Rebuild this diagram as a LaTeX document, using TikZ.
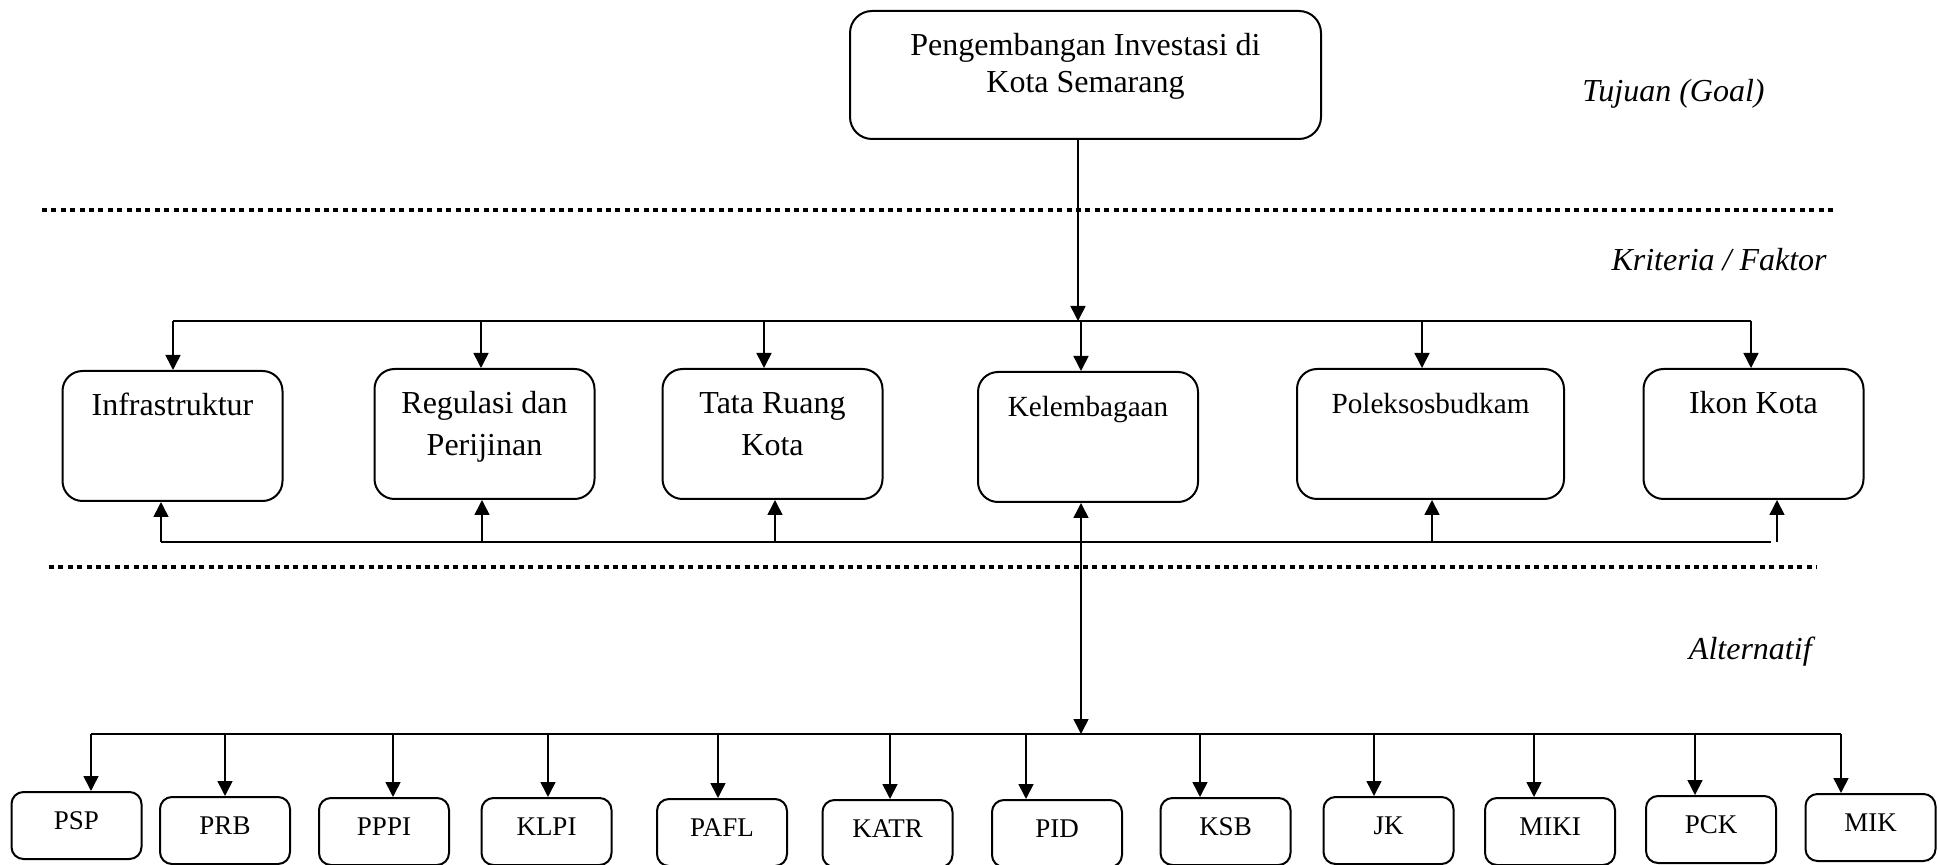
\documentclass[tikz,border=0pt]{standalone}
\usepackage{fontspec}
\setmainfont{Liberation Serif}
\usetikzlibrary{arrows.meta}

\begin{document}
\begin{tikzpicture}[x=0.5pt, y=-0.5pt,
    line/.style={line width=0.8pt},
    arr/.style={line width=0.8pt, -{Triangle[length=7.5pt,width=7.5pt]}},
    sep/.style={line width=2pt, dash pattern=on 2.5pt off 2.2pt},
    goalbox/.style={draw, line width=1pt, rounded corners=11pt, anchor=north, align=center,
      inner sep=0pt, minimum width=235.5pt, minimum height=64pt,
      text height=41pt, text depth=23pt, font=\fontsize{16}{18.5}\selectfont},
    crit/.style={draw, line width=1pt, rounded corners=10pt, anchor=north, align=center,
      inner sep=0pt, minimum width=110pt, minimum height=65pt,
      text height=22.5pt, text depth=42.5pt, font=\fontsize{16}{21}\selectfont},
    twoline/.style={text height=43.5pt, text depth=21.5pt},
    small/.style={font=\fontsize{14.6}{18}\selectfont},
    altbox/.style={draw, line width=1pt, rounded corners=6pt, anchor=north,
      inner sep=0pt, minimum width=65pt, minimum height=33.5pt,
      text height=18.5pt, text depth=15pt, font=\fontsize{13.5}{16}\selectfont},
    lab/.style={anchor=base east, inner sep=0pt, font=\fontsize{16}{18}\selectfont\itshape}]
  \useasboundingbox (0,0) rectangle (1938,865);

  \node[goalbox](goal) at (1085.5,10){Pengembangan Investasi di\\Kota Semarang};

  \node[lab](tujuan) at (1765,102){Tujuan (Goal)};
  \node[lab](kriteria) at (1827,271){Kriteria / Faktor};
  \node[lab](alternatif) at (1812,660){Alternatif};

  \draw[sep] (42,210) -- (1835,210);
  \draw[sep] (49,567) -- (1817,567);

  \node[crit](infra) at (172.5,370){Infrastruktur};
  \node[crit, twoline](regulasi) at (484.5,368){Regulasi dan\\Perijinan};
  \node[crit, twoline](tataruang) at (772.5,368){Tata Ruang\\Kota};
  \node[crit, small](lembaga) at (1088,371){Kelembagaan};
  \node[crit, small, minimum width=133.5pt](poleks) at (1430.5,368){Poleksosbudkam};
  \node[crit](ikon) at (1753.5,368){Ikon Kota};

  \coordinate (kmid) at (1078,321);
  \draw[arr] (goal.south -| kmid) -- (kmid);

  \foreach \x/\n in {173/infra,481/regulasi,764/tataruang,1081/lembaga,1422/poleks,1751/ikon} {
    \coordinate (top-\n) at (\x,321);
    \draw[arr] (top-\n) -- (top-\n |- \n.north);
  }
  \draw[line] (top-infra) -- (top-ikon);

  \foreach \x/\n in {161/infra,482/regulasi,775/tataruang,1081/lembaga,1432/poleks,1777/ikon} {
    \coordinate (bot-\n) at (\x,542);
    \draw[arr] (bot-\n) -- (bot-\n |- \n.south);
  }
  \draw[line] (bot-infra) -- (1771,542);

  \foreach \x/\y/\n/\t in {76.5/791/psp/PSP,225/796/prb/PRB,384/797/pppi/PPPI,546.5/797/klpi/KLPI,
      722/798/pafl/PAFL,887.5/799/katr/KATR,1057/799/pid/PID,1225.5/797/ksb/KSB,
      1388.5/796/jk/JK,1550/797/miki/MIKI,1711/795/pck/PCK,1870.5/793/mik/MIK} {
    \node[altbox](\n) at (\x,\y){\t};
  }

  \coordinate (abus) at (1081,734);
  \draw[arr] (bot-lembaga) -- (abus);

  \foreach \x/\n in {91/psp,225/prb,393/pppi,548/klpi,718/pafl,890/katr,1026/pid,1200/ksb,
      1374/jk,1534/miki,1695/pck,1841/mik} {
    \coordinate (alt-\n) at (\x,734);
    \draw[arr] (alt-\n) -- (alt-\n |- \n.north);
  }
  \draw[line] (alt-psp) -- (alt-mik);
\end{tikzpicture}
\end{document}
